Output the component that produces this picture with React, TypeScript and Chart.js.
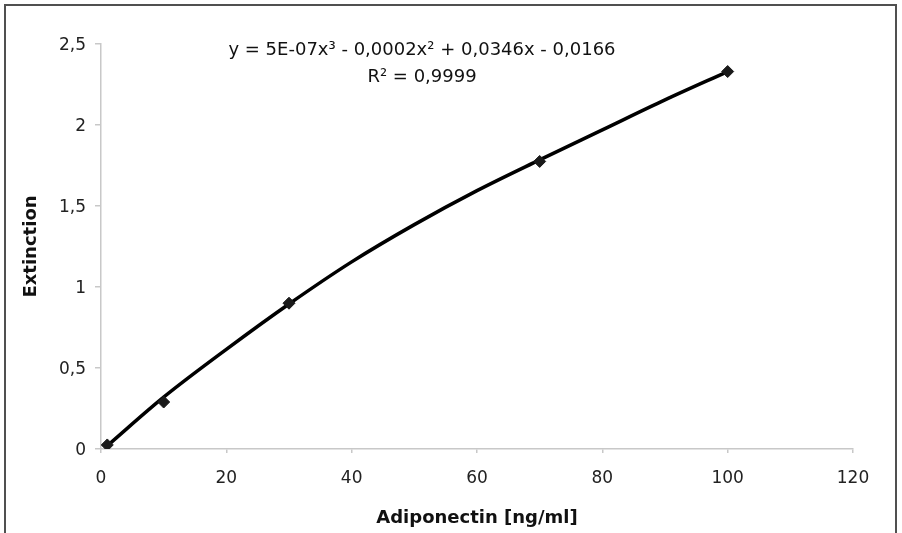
import React, { useEffect, useRef } from "react";
import { Chart, registerables } from "chart.js";

Chart.register(...registerables);

// Measured standards (x: Adiponectin ng/ml, y: extinction)
const standardX = [1, 10, 30, 70, 100];
const standardY = [0.025, 0.29, 0.9, 1.775, 2.33];

// Trend line
const curveX = [1, 10, 20, 30, 40, 50, 60, 70, 80, 90, 100];
const curveY = [0.02, 0.32, 0.615, 0.895, 1.155, 1.385, 1.595, 1.785, 1.97, 2.155, 2.33];

const xTicks = [0, 20, 40, 60, 80, 100, 120];
const yTicks = [0, 0.5, 1, 1.5, 2, 2.5];

const equationLines = ["y = 5E-07x³ - 0,0002x² + 0,0346x - 0,0166", "R² = 0,9999"];
const xTitle = "Adiponectin [ng/ml]";
const yTitle = "Extinction";

const FONT = "'DejaVu Sans', 'Liberation Sans', sans-serif";

const framePlugin = {
  id: "frameAndEquation",
  afterDraw(chart: any) {
    const ctx = chart.ctx;
    ctx.save();
    ctx.strokeStyle = "#505050";
    ctx.lineWidth = 2;
    ctx.strokeRect(5, 5, 891, 700);
    ctx.fillStyle = "#111";
    ctx.font = `18px ${FONT}`;
    ctx.textAlign = "center";
    ctx.textBaseline = "middle";
    const cx = 422;
    ctx.fillText(equationLines[0], cx, 50);
    ctx.fillText(equationLines[1], cx, 77);
    ctx.restore();
  },
};

export default function App() {
  const ref = useRef<HTMLCanvasElement | null>(null);
  useEffect(() => {
    document.body.style.margin = "0";
    const canvas = ref.current;
    if (!canvas) return;
    const chart = new Chart(canvas, {
      type: "scatter",
      data: {
        datasets: [
          {
            label: "trend",
            data: curveX.map((x, i) => ({ x, y: curveY[i] })),
            showLine: true,
            borderColor: "#000",
            borderWidth: 3.5,
            pointRadius: 0,
            cubicInterpolationMode: "monotone",
            order: 2,
          },
          {
            label: "standards",
            data: standardX.map((x, i) => ({ x, y: standardY[i] })),
            showLine: false,
            pointStyle: "rectRot",
            pointRadius: 6,
            backgroundColor: "#1a1a1a",
            borderColor: "#1a1a1a",
            borderWidth: 1,
            order: 1,
          },
        ],
      },
      options: {
        responsive: false,
        animation: false,
        layout: { padding: { left: 0, right: 49, top: 44, bottom: 0 } },
        plugins: { legend: { display: false }, tooltip: { enabled: false } },
        scales: {
          x: {
            type: "linear",
            min: 0,
            max: 120,
            afterBuildTicks: (s: any) => {
              s.ticks = xTicks.map((v) => ({ value: v }));
            },
            afterFit: (s: any) => {
              s.height = 84;
            },
            ticks: {
              color: "#222",
              font: { family: FONT, size: 17 },
              padding: 15,
              maxRotation: 0,
            },
            grid: {
              drawOnChartArea: false,
              drawTicks: true,
              tickLength: 4,
              color: "#c8c8c8",
              lineWidth: 1.5,
            },
            border: { color: "#c8c8c8", width: 1.5 },
            title: {
              display: true,
              text: xTitle,
              color: "#111",
              font: { family: FONT, size: 18, weight: "bold" },
              padding: { top: 0, bottom: 4 },
            },
          },
          y: {
            type: "linear",
            min: 0,
            max: 2.5,
            afterBuildTicks: (s: any) => {
              s.ticks = yTicks.map((v) => ({ value: v }));
            },
            afterFit: (s: any) => {
              s.width = 101;
            },
            ticks: {
              color: "#222",
              font: { family: FONT, size: 17 },
              padding: 9,
              labelOffset: 1.5,
              callback: (v: any) => String(v).replace(".", ","),
            },
            grid: {
              drawOnChartArea: false,
              drawTicks: true,
              tickLength: 6,
              color: "#c8c8c8",
              lineWidth: 1.5,
            },
            border: { color: "#c8c8c8", width: 1.5 },
            title: {
              display: true,
              text: yTitle,
              color: "#111",
              font: { family: FONT, size: 18, weight: "bold" },
              padding: { top: 21, bottom: 0 },
            },
          },
        },
      },
      plugins: [framePlugin],
    } as any);
    return () => chart.destroy();
  }, []);
  return (
    <div style={{ width: 902, height: 533 }}>
      <canvas ref={ref} width={902} height={533} style={{ display: "block" }} />
    </div>
  );
}
